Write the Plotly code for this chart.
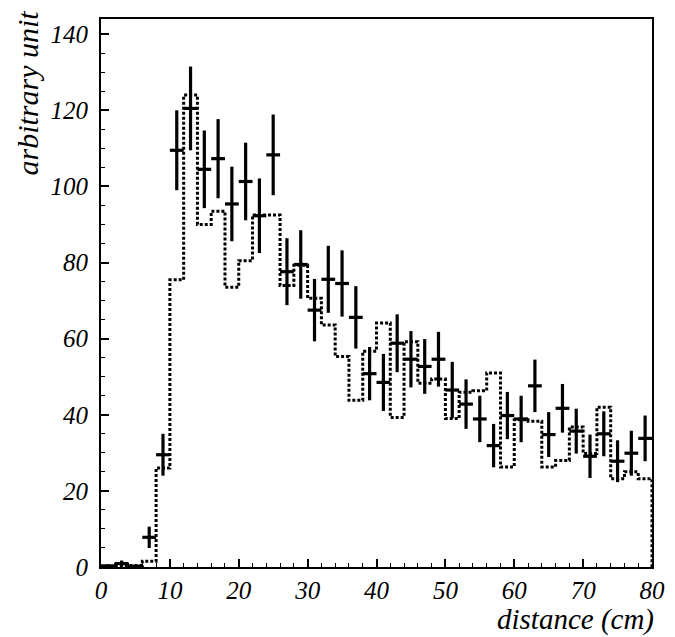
import plotly.graph_objects as go

# ---- data ----
bin_edges = [0, 2, 4, 6, 8, 10, 12, 14, 16, 18, 20, 22, 24, 26, 28, 30, 32, 34, 36, 38, 40,
             42, 44, 46, 48, 50, 52, 54, 56, 58, 60, 62, 64, 66, 68, 70, 72, 74, 76, 78, 80]
sim_values = [0, 0.3, 0.4, 1.5, 26, 75.5, 124, 90, 93.5, 73.5, 80.5, 92.5, 92.5, 74, 79.3,
              70.6, 63.6, 55.3, 43.8, 56.7, 64.1, 39.3, 59.2, 48.3, 49.4, 39, 45.9, 46.3,
              51, 26.3, 38.7, 38.3, 26.3, 28, 36.8, 29.8, 42, 23.2, 25, 23.2]
bin_centers = [1, 3, 5, 7, 9, 11, 13, 15, 17, 19, 21, 23, 25, 27, 29, 31, 33, 35, 37, 39,
               41, 43, 45, 47, 49, 51, 53, 55, 57, 59, 61, 63, 65, 67, 69, 71, 73, 75, 77, 79]
data_values = [0.3, 0.9, 0.2, 7.8, 29.5, 109.5, 120.5, 104.5, 107.3, 95.4, 101.3, 92.3, 108.3,
               77.6, 79.5, 67.5, 75.6, 74.5, 65.6, 50.8, 48.5, 58.8, 54.6, 52.7, 54.6, 46.5,
               42.8, 38.9, 31.9, 39.8, 38.9, 47.6, 34.8, 41.7, 35.7, 29.1, 35.0, 27.8, 29.9, 33.8]
data_errors = [0.4, 0.8, 0.3, 2.8, 5.5, 10.5, 11, 10.2, 10.4, 9.8, 10.2, 9.8, 10.6, 8.8, 9.0,
               8.2, 8.8, 8.7, 8.2, 7.0, 7.5, 7.6, 7.4, 7.2, 7.2, 7.4, 6.5, 6.1, 5.7, 6.2, 6.1,
               6.9, 5.9, 6.4, 5.9, 5.7, 5.9, 5.5, 5.9, 6.0]
half_bin = 1

x_tickvals = [0, 10, 20, 30, 40, 50, 60, 70, 80]
x_ticktext = ["0", "10", "20", "30", "40", "50", "60", "70", "80"]
y_tickvals = [0, 20, 40, 60, 80, 100, 120, 140]
y_ticktext = ["0", "20", "40", "60", "80", "100", "120", "140"]

x_label = "distance (cm)"
y_label = "arbitrary unit"

FONT = "Liberation Serif, Times New Roman, serif"

fig = go.Figure()

# dotted simulated histogram
fig.add_trace(go.Scatter(
    x=bin_edges,
    y=sim_values + [0],
    mode="lines",
    line=dict(shape="hv", color="black", width=3, dash="3px,2px"),
    hoverinfo="skip",
    showlegend=False,
))

# data points with error crosses
fig.add_trace(go.Scatter(
    x=bin_centers,
    y=data_values,
    mode="markers",
    marker=dict(size=1, color="black"),
    error_y=dict(type="data", array=data_errors, visible=True, color="black",
                 thickness=3.2, width=0),
    error_x=dict(type="constant", value=half_bin, visible=True, color="black",
                 thickness=3.2, width=0),
    showlegend=False,
))

tickfont = dict(family=FONT, size=25, color="black")

fig.update_layout(
    width=667,
    height=629,
    margin=dict(l=93, r=23, t=9, b=70),
    paper_bgcolor="white",
    plot_bgcolor="white",
    font=dict(family=FONT, color="black"),
    xaxis=dict(
        range=[0, 80],
        tickmode="array", tickvals=x_tickvals,
        ticktext=["<i>" + t + "</i>" for t in x_ticktext],
        ticks="inside", ticklen=8, tickwidth=1.5, tickcolor="black",
        minor=dict(dtick=2, tick0=0, ticks="inside", ticklen=4, tickwidth=1, tickcolor="black"),
        showline=True, linecolor="black", linewidth=2, mirror=True,
        showgrid=False, zeroline=False,
        tickfont=tickfont,
        ticklabelstandoff=0,
    ),
    yaxis=dict(
        range=[0, 144],
        tickmode="array", tickvals=y_tickvals,
        ticktext=["<i>" + t + "</i>" for t in y_ticktext],
        ticks="inside", ticklen=8, tickwidth=1.5, tickcolor="black",
        minor=dict(dtick=5, tick0=0, ticks="inside", ticklen=4, tickwidth=1, tickcolor="black"),
        showline=True, linecolor="black", linewidth=2, mirror=True,
        showgrid=False, zeroline=False,
        tickfont=tickfont,
        ticklabelstandoff=6,
    ),
    annotations=[
        dict(text="<i>" + x_label + "</i>", xref="paper", yref="paper", x=1, y=0,
             xanchor="right", yanchor="top", yshift=-34, xshift=4, showarrow=False,
             font=dict(family=FONT, size=29, color="black")),
        dict(text="<i>" + y_label + "</i>", xref="paper", yref="paper", x=0, y=1,
             xanchor="center", yanchor="top", xshift=-74, yshift=10, textangle=-90,
             showarrow=False,
             font=dict(family=FONT, size=30, color="black")),
    ],
)

fig.write_html("out.html")
